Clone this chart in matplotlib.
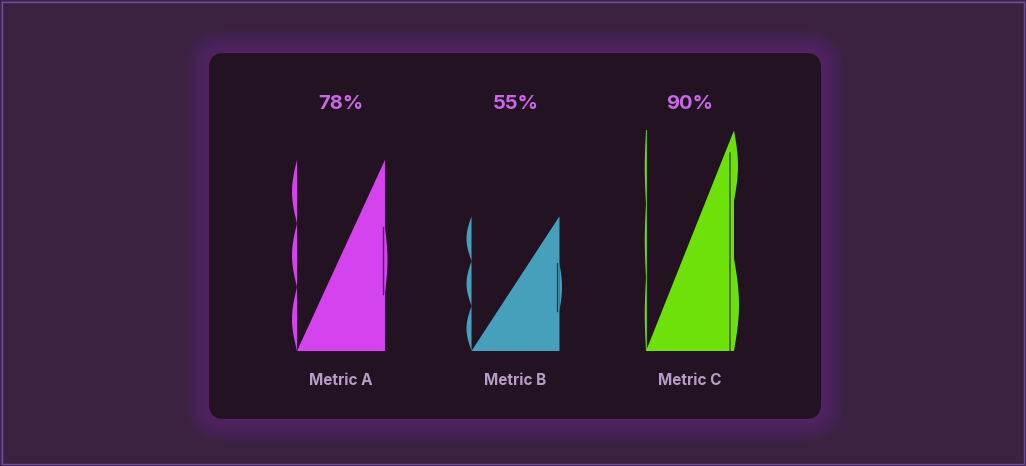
import numpy as np
import matplotlib
matplotlib.use("Agg")
import matplotlib.pyplot as plt
from matplotlib.patches import FancyBboxPatch, Rectangle, Polygon

# data
metrics = ["Metric A", "Metric B", "Metric C"]
values = [78, 55, 90]
colors = ["#d443ee", "#46a0bc", "#6fe10a"]

W, H = 1026, 466
fig = plt.figure(figsize=(W / 100, H / 100), dpi=100)
fig.patch.set_facecolor("#3a2240")

# background layer in pixel coords
bg = fig.add_axes([0, 0, 1, 1])
bg.set_xlim(0, W)
bg.set_ylim(H, 0)
bg.axis("off")
bg.add_patch(Rectangle((0.5, 0.5), W - 1, H - 1, fill=False, ec="#4b2f6a", lw=1))
bg.add_patch(Rectangle((2, 2), W - 4, H - 4, fill=False, ec="#6c4d9c", lw=1))

# glow round the card
cx0, cy0, cw, ch = 209, 53, 612, 366
for i in range(24, 0, -1):
    bg.add_patch(FancyBboxPatch((cx0 - i, cy0 - i), cw + 2 * i, ch + 2 * i,
                                boxstyle=f"round,pad=0,rounding_size={15 + i}",
                                fc="#8a3aa8", ec="none", alpha=0.025))
bg.add_patch(FancyBboxPatch((cx0, cy0), cw, ch, boxstyle="round,pad=0,rounding_size=15",
                            fc="#221222", ec="none"))

# chart layer: index i -> pixel 341 + 174.5*i, value 0 at pixel 351, 100 at pixel 106
step = 174.5
ax = fig.add_axes([cx0 / W, (H - 351) / H, cw / W, 245 / H])
ax.set_xlim((cx0 - 341) / step, (cx0 + cw - 341) / step)
ax.set_ylim(0, 100)
ax.axis("off")

hw = 0.252
bump = 5 / step


def sliver(x0, top, side, lobes, amp, y_from=0.0, y_to=None):
    if y_to is None:
        y_to = top
    t = np.linspace(0, 1, 120)
    ys = y_from + (y_to - y_from) * t
    xs = x0 + side * amp * np.abs(np.sin(np.pi * lobes * t))
    pts = np.column_stack([np.r_[xs, [x0, x0]], np.r_[ys, [y_to, y_from]]])
    return pts


for i, (m, v, c) in enumerate(zip(metrics, values, colors)):
    xl, xr = i - hw, i + hw
    ax.add_patch(Polygon([(xl, 0), (xr, v), (xr, 0)], closed=True, fc=c, ec="none"))
    if i == 2:
        ax.add_patch(Polygon(sliver(xl, v, -1, 3, bump * 0.25), fc=c, ec="none"))
        ax.plot([xl, xl], [0, v], color=c, lw=0.8, alpha=0.8)
        ax.add_patch(Polygon(sliver(xr, v, 1, 1, bump * 1.0, v * 0.0, v * 0.42), fc=c, ec="none"))
        ax.add_patch(Polygon(sliver(xr, v, 1, 1, bump * 0.8, v * 0.68, v), fc=c, ec="none"))
        ax.plot([xr - 0.02, xr - 0.02], [0, v * 0.9], color="#221222", lw=1.2, alpha=0.6)
    else:
        ax.add_patch(Polygon(sliver(xl, v, -1, 3, bump), fc=c, ec="none"))
        ax.add_patch(Polygon(sliver(xr, v, 1, 1, bump * 0.5, v * 0.3, v * 0.65), fc=c, ec="none"))
        ax.plot([xr - 0.012, xr - 0.012], [v * 0.3, v * 0.65], color="#221222", lw=1.0, alpha=0.7)
    ax.text(i, 100.8, f"{v}%", ha="center", va="center", fontsize=14.5,
            fontweight="bold", family="Inter", color="#c768e6", clip_on=False)
    ax.text(i, -12.2, m, ha="center", va="center", fontsize=11,
            fontweight="bold", family="Inter", color="#b89cc8", clip_on=False)

fig.savefig("out.png", dpi=100, facecolor=fig.get_facecolor())
